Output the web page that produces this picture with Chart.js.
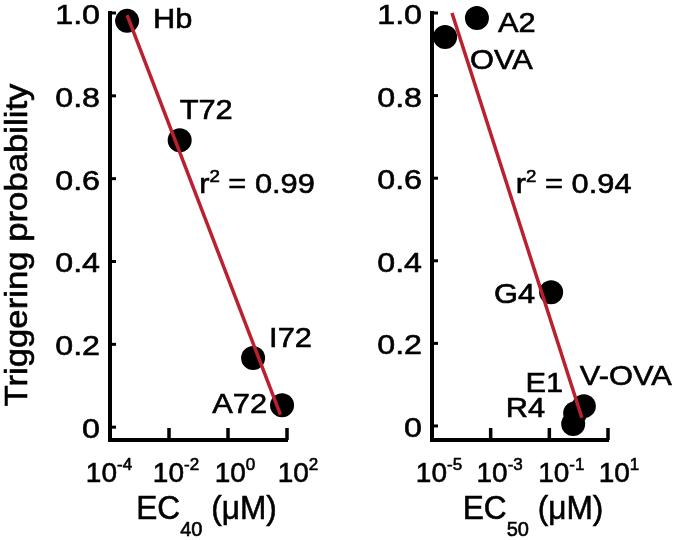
<!DOCTYPE html>
<html>
<head>
<meta charset="utf-8">
<script src="https://cdn.jsdelivr.net/npm/chart.js@4.4.0/dist/chart.umd.min.js"></script>
<style>
  html, body { margin: 0; padding: 0; background: #fff; }
  #wrap { position: relative; width: 677px; height: 540px; }
  canvas { position: absolute; top: 0; }
  #c1 { left: 0; }
  #c2 { left: 338px; }
</style>
</head>
<body>
<div id="wrap">
  <canvas id="c1" width="338" height="540"></canvas>
  <canvas id="c2" width="339" height="540"></canvas>
</div>
<script>
// left panel: EC40 (uM) vs triggering probability
const leftNames = ["Hb", "T72", "I72", "A72"];
const leftEC = [3.8e-4, 2.3e-2, 7.1, 68];
const leftProb = [0.981, 0.693, 0.167, 0.053];
const leftFitEC = [3.8e-4, 60];
const leftFitProb = [0.995, 0.03];
const leftR2 = "0.99";
const leftExp = [-4, -2, 0, 2];

// right panel: EC50 (uM) vs triggering probability
const rightNames = ["A2", "OVA", "G4", "E1", "V-OVA", "R4"];
const rightEC = [3.4e-4, 2.8e-5, 0.115, 0.76, 1.5, 0.65];
const rightProb = [0.988, 0.942, 0.324, 0.031, 0.048, 0.005];
const rightFitEC = [4.8e-5, 1.29];
const rightFitProb = [1.0, 0.02];
const rightR2 = "0.94";
const rightExp = [-5, -3, -1, 1];

const yTicks = [0, 0.2, 0.4, 0.6, 0.8, 1.0];
const yTickLabels = ["0", "0.2", "0.4", "0.6", "0.8", "1.0"];

const FONT = '"Liberation Sans", Arial, Helvetica, sans-serif';
const RED = "#BA2030";

// draw a run of text pieces (size, vertical shift, horizontal stretch)
function drawRich(ctx, parts, x, y, align) {
  let total = 0;
  parts.forEach(p => {
    ctx.font = p.size + "px " + FONT;
    p.w = ctx.measureText(p.t).width * (p.sx || 1);
    total += p.w;
  });
  let cx = align === "right" ? x - total : align === "center" ? x - total / 2 : x;
  ctx.textAlign = "left";
  ctx.textBaseline = "alphabetic";
  parts.forEach(p => {
    ctx.save();
    ctx.font = p.size + "px " + FONT;
    ctx.translate(cx, y + (p.dy || 0));
    ctx.scale(p.sx || 1, 1);
    ctx.fillText(p.t, 0, 0);
    // the source type is a little heavier than Liberation Sans
    ctx.lineWidth = 0.6;
    ctx.strokeText(p.t, 0, 0);
    ctx.restore();
    cx += p.w;
  });
}

const decor = {
  id: "decor",
  afterDraw(chart) {
    const cfg = chart.options.plugins.decor;
    const ctx = chart.ctx;
    const xs = chart.scales.x, ys = chart.scales.y;
    const area = chart.chartArea;
    ctx.save();
    ctx.fillStyle = "#000";
    ctx.strokeStyle = "#000";

    // inward tick marks
    ctx.lineWidth = 3;
    yTicks.forEach(v => {
      const py = ys.getPixelForValue(v);
      ctx.beginPath(); ctx.moveTo(area.left, py); ctx.lineTo(area.left + 6, py); ctx.stroke();
    });
    ctx.lineWidth = 3.5;
    cfg.exps.forEach(e => {
      const px = xs.getPixelForValue(Math.pow(10, e));
      ctx.beginPath(); ctx.moveTo(px, area.bottom); ctx.lineTo(px, area.bottom - 12); ctx.stroke();
    });

    // tick labels
    yTicks.forEach((v, i) => {
      const py = ys.getPixelForValue(v);
      drawRich(ctx, [{ t: yTickLabels[i], size: 28, sx: 1.15 }], area.left - 10, py + 11, "right");
    });
    cfg.exps.forEach((e, i) => {
      const px = xs.getPixelForValue(Math.pow(10, e));
      drawRich(ctx, [
        { t: "10", size: 28 },
        { t: e < 0 ? "-" + Math.abs(e) : String(e), size: 17, dy: -12 }
      ], px + cfg.tickDx[i], area.bottom + 42, "center");
    });

    // point labels
    const pts = chart.getDatasetMeta(1).data;
    cfg.names.forEach((name, i) => {
      const o = cfg.offsets[name];
      drawRich(ctx, [{ t: name, size: 28, sx: 1.1 }], pts[i].x + o[0], pts[i].y + o[1], o[2]);
    });

    // r squared
    const rx = xs.getPixelForValue(cfg.r2At[0]), ry = ys.getPixelForValue(cfg.r2At[1]);
    drawRich(ctx, [
      { t: "r", size: 28, sx: 1.1 },
      { t: "2", size: 17, dy: -11, sx: 1.1 },
      { t: " = " + cfg.r2, size: 28, sx: 1.1 }
    ], rx, ry, "left");

    // x title
    const mid = (area.left + area.right) / 2 + cfg.titleDx;
    drawRich(ctx, [
      { t: "EC", size: 34, sx: 0.93 },
      { t: cfg.sub, size: 20, dy: 17 },
      { t: " (\u03bcM)", size: 34, sx: 0.93 }
    ], mid, area.bottom + 79, "center");

    // y title
    if (cfg.yTitle) {
      ctx.save();
      ctx.translate(27, 245);
      ctx.rotate(-Math.PI / 2);
      drawRich(ctx, [{ t: cfg.yTitle, size: 31, sx: 1.12 }], 0, 0, "center");
      ctx.restore();
    }
    ctx.restore();
  }
};

function makePanel(id, p) {
  return new Chart(document.getElementById(id), {
    type: "scatter",
    data: {
      datasets: [
        {
          type: "line",
          data: p.fitEC.map((x, i) => ({ x, y: p.fitProb[i] })),
          borderColor: RED, borderWidth: 3.5, pointRadius: 0, clip: false, order: 0
        },
        {
          data: p.ec.map((x, i) => ({ x, y: p.prob[i] })),
          backgroundColor: "#000", borderWidth: 0, pointRadius: 12, pointHoverRadius: 12,
          clip: false, order: 1
        }
      ]
    },
    options: {
      responsive: false,
      animation: false,
      devicePixelRatio: 1,
      layout: { padding: p.padding },
      scales: {
        x: {
          type: "logarithmic", min: p.xMin, max: p.xMax,
          ticks: { display: false },
          grid: { drawOnChartArea: false, drawTicks: false },
          border: { display: true, width: 4, color: "#000" }
        },
        y: {
          type: "linear", min: p.yMin, max: 1.0,
          ticks: { display: false },
          grid: { drawOnChartArea: false, drawTicks: false },
          border: { display: true, width: 4, color: "#000" }
        }
      },
      plugins: {
        legend: { display: false },
        tooltip: { enabled: false },
        decor: p.decor
      }
    },
    plugins: [decor]
  });
}

makePanel("c1", {
  ec: leftEC, prob: leftProb, fitEC: leftFitEC, fitProb: leftFitProb,
  xMin: 1e-4, xMax: 1e2, yMin: -0.031,
  padding: { left: 110, right: 51, top: 13, bottom: 100 },
  decor: {
    names: leftNames, exps: leftExp, r2: leftR2, r2At: [0.105, 0.565],
    sub: "40", titleDx: 8, yTitle: "Triggering probability",
    tickDx: [-1, 7, 7, 11],
    offsets: {
      "Hb": [26, 7, "left"], "T72": [0, -21, "left"],
      "I72": [16, -11, "left"], "A72": [-15, 8, "right"]
    }
  }
});

makePanel("c2", {
  ec: rightEC, prob: rightProb, fitEC: rightFitEC, fitProb: rightFitProb,
  xMin: 1e-5, xMax: 1e1, yMin: -0.034,
  padding: { left: 94, right: 69, top: 13, bottom: 100 },
  decor: {
    names: rightNames, exps: rightExp, r2: rightR2, r2At: [7.2e-3, 0.564],
    sub: "50", titleDx: 13, yTitle: null,
    tickDx: [7, 9, 12, 11],
    offsets: {
      "A2": [21, 14, "left"], "OVA": [25, 32, "left"], "G4": [-16, 11, "right"],
      "E1": [-12, -21, "right"], "V-OVA": [-4, -21, "left"], "R4": [-28, -7, "right"]
    }
  }
});
</script>
</body>
</html>
